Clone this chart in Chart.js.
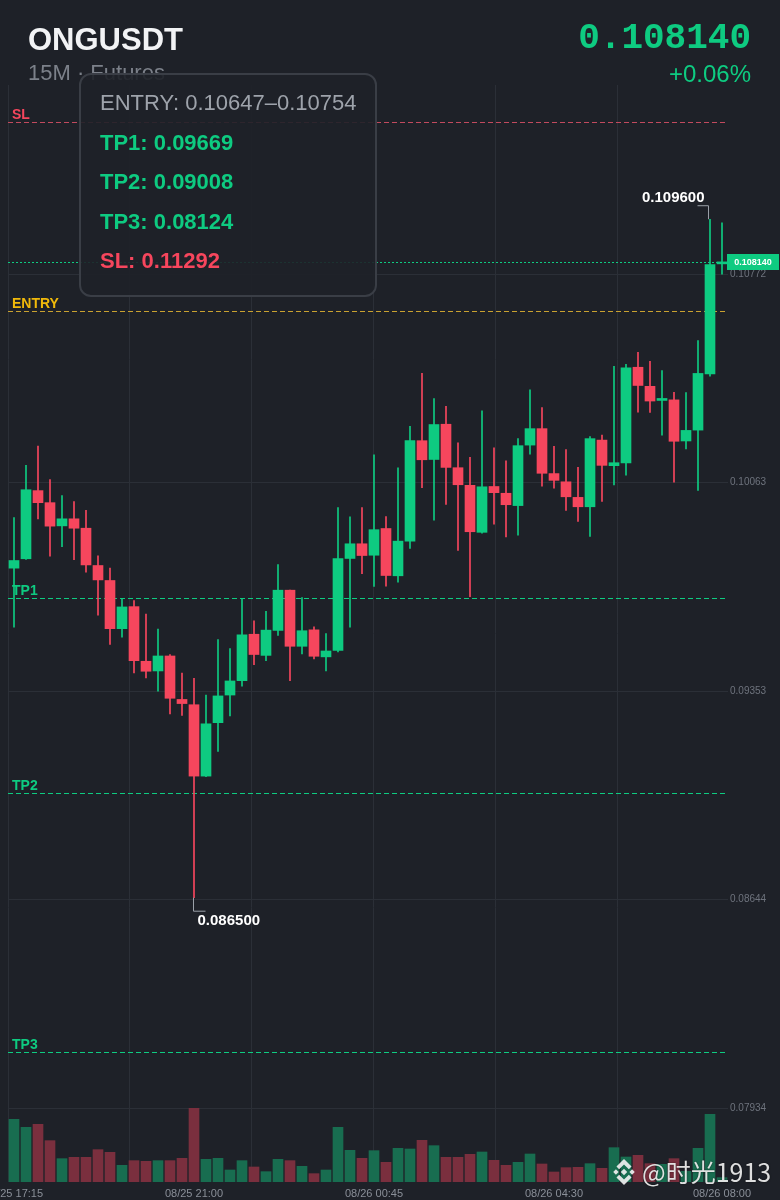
<!DOCTYPE html>
<html>
<head>
<meta charset="utf-8">
<title>ONGUSDT 15M</title>
<script src="https://cdn.jsdelivr.net/npm/chart.js@4.4.1/dist/chart.umd.min.js"></script>
<style>
  html, body { margin: 0; padding: 0; background: #1e2128; }
  #wrap { position: relative; width: 780px; height: 1200px; overflow: hidden; font-family: "Liberation Sans", Arial, sans-serif; }
  #chart { position: absolute; left: 0; top: 0; }
  .hd { position: absolute; white-space: nowrap; line-height: normal; }
  #sym { left: 28px; top: 22px; font-size: 31px; font-weight: bold; color: #f2f3f5; }
  #sub { left: 28px; top: 60px; font-size: 22px; color: #7c818a; }
  #price { right: 29px; top: 18px; font-family: "Liberation Mono", monospace; font-size: 36px; font-weight: bold; color: #0ecb81; }
  #chg { right: 29px; top: 60px; font-size: 24px; color: #0ecb81; }
  #box { position: absolute; left: 79px; top: 73px; width: 298px; height: 224px; box-sizing: border-box;
         border: 2px solid #3a3e46; border-radius: 12px; background: rgba(30, 33, 40, 0.9); }
  #box .ln { position: absolute; left: 19px; font-size: 22px; line-height: normal; white-space: nowrap; }
  #wm { position: absolute; left: 642px; top: 1159px; font-family: "Noto Sans CJK SC", sans-serif; font-size: 25px; line-height: 1;
        color: rgba(240, 240, 240, 0.92); text-shadow: 0 0 2px rgba(0,0,0,0.6); white-space: nowrap; }
  #logo { position: absolute; left: 610px; top: 1158px; }
</style>
</head>
<body>
<div id="wrap">
  <canvas id="chart" width="780" height="1200"></canvas>
  <div class="hd" id="sym">ONGUSDT</div>
  <div class="hd" id="sub">15M · Futures</div>
  <div class="hd" id="price"></div>
  <div class="hd" id="chg"></div>
  <div id="box"></div>
  <svg id="logo" width="28" height="28" viewBox="0 0 26 26">
    <g fill="rgba(240,240,240,0.92)">
      <polygon points="13,1 20,8 17.5,10.5 13,6 8.5,10.5 6,8"/>
      <polygon points="13,25 20,18 17.5,15.5 13,20 8.5,15.5 6,18"/>
      <polygon points="3,13 5.5,10.5 8,13 5.5,15.5"/>
      <polygon points="18,13 20.5,10.5 23,13 20.5,15.5"/>
      <polygon points="13,10 16,13 13,16 10,13"/>
    </g>
  </svg>
  <div id="wm">@时光1913</div>
</div>
<script>
(function () {
  'use strict';

  // 15 minute candles, 08/25 17:15 .. 08/26 08:00
  var categories = [];
  for (var i = 0; i < 60; i++) {
    var t = 25 * 1440 + 17 * 60 + 15 + i * 15;
    var d = Math.floor(t / 1440), m = t % 1440;
    categories.push('08/' + d + ' ' + String(Math.floor(m / 60)).padStart(2, '0') + ':' + String(m % 60).padStart(2, '0'));
  }
  var tickIdx = [0, 15, 30, 45, 59];

  var opens = [0.09772, 0.09804, 0.10036, 0.09995, 0.09916, 0.09940, 0.09908, 0.09781, 0.09730, 0.09566,
    0.09641, 0.09455, 0.09422, 0.09473, 0.09325, 0.09307, 0.09064, 0.09246, 0.09340, 0.09389,
    0.09547, 0.09475, 0.09560, 0.09697, 0.09506, 0.09562, 0.09470, 0.09492, 0.09805, 0.09855,
    0.09816, 0.09907, 0.09746, 0.09864, 0.10206, 0.10142, 0.10262, 0.10114, 0.10054, 0.09894,
    0.10050, 0.10027, 0.09985, 0.10191, 0.10247, 0.10094, 0.10066, 0.10013, 0.09981, 0.10208,
    0.10121, 0.10130, 0.10456, 0.10391, 0.10343, 0.10345, 0.10205, 0.10242, 0.10433, 0.10808];
  var highs = [0.09944, 0.10122, 0.10188, 0.10074, 0.10019, 0.09999, 0.09969, 0.09814, 0.09772, 0.09668,
    0.09662, 0.09616, 0.09565, 0.09478, 0.09415, 0.09397, 0.09340, 0.09529, 0.09498, 0.09668,
    0.09593, 0.09625, 0.09784, 0.09697, 0.09672, 0.09572, 0.09549, 0.09978, 0.09947, 0.09978,
    0.10158, 0.09948, 0.10114, 0.10255, 0.10435, 0.10349, 0.10323, 0.10199, 0.10149, 0.10308,
    0.10182, 0.10137, 0.10213, 0.10379, 0.10319, 0.10187, 0.10176, 0.10115, 0.10220, 0.10225,
    0.10459, 0.10466, 0.10507, 0.10476, 0.10445, 0.10371, 0.10370, 0.10547, 0.10960, 0.10948];
  var lows = [0.09571, 0.09802, 0.09940, 0.09813, 0.09845, 0.09801, 0.09758, 0.09612, 0.09512, 0.09537,
    0.09415, 0.09398, 0.09353, 0.09276, 0.09271, 0.08650, 0.09062, 0.09148, 0.09269, 0.09370,
    0.09443, 0.09457, 0.09543, 0.09389, 0.09480, 0.09463, 0.09422, 0.09487, 0.09571, 0.09753,
    0.09710, 0.09711, 0.09724, 0.09839, 0.10046, 0.09935, 0.09989, 0.09832, 0.09675, 0.09891,
    0.09922, 0.09878, 0.09884, 0.10160, 0.10051, 0.10044, 0.09969, 0.09931, 0.09880, 0.09999,
    0.10055, 0.10089, 0.10303, 0.10302, 0.10225, 0.10065, 0.10178, 0.10037, 0.10426, 0.10773];
  var closes = [0.09798, 0.10039, 0.09995, 0.09915, 0.09940, 0.09908, 0.09783, 0.09732, 0.09566, 0.09640,
    0.09457, 0.09421, 0.09473, 0.09329, 0.09311, 0.09064, 0.09242, 0.09337, 0.09388, 0.09545,
    0.09478, 0.09561, 0.09697, 0.09506, 0.09559, 0.09472, 0.09490, 0.09805, 0.09855, 0.09815,
    0.09903, 0.09747, 0.09864, 0.10206, 0.10141, 0.10261, 0.10115, 0.10056, 0.09896, 0.10049,
    0.10029, 0.09988, 0.10189, 0.10247, 0.10095, 0.10071, 0.10015, 0.09981, 0.10213, 0.10122,
    0.10131, 0.10454, 0.10394, 0.10341, 0.10347, 0.10204, 0.10241, 0.10435, 0.10806, 0.10814];
  // volume, thousand ONG
  var volumes = [188, 164, 173, 124, 70, 74, 74, 97, 89, 50,
    64, 62, 64, 64, 71, 222, 68, 71, 36, 64,
    45, 31, 68, 64, 47, 25, 36, 164, 95, 71,
    94, 59, 101, 99, 125, 109, 74, 74, 83, 90,
    65, 50, 59, 84, 54, 30, 43, 44, 55, 41,
    103, 75, 80, 55, 53, 70, 32, 101, 203, 13];

  var priceTicks = [0.07934, 0.08644, 0.09353, 0.10063, 0.10772];
  var levelNames = ['SL', 'ENTRY', 'TP1', 'TP2', 'TP3'];
  var levelValues = [0.11292, 0.10647, 0.09669, 0.09008, 0.08124];
  var entryHigh = 0.10754;

  var UP = '#0ecb81', DOWN = '#f6465d';
  var UP_VOL = '#186d50', DOWN_VOL = '#7a2f3e';
  var GRID = '#2b2f37';
  var levelText = ['#f6465d', '#f0b90b', '#0ecb81', '#0ecb81', '#0ecb81'];
  var levelLine = ['#c24a5e', '#c9a130', '#0ecb81', '#0ecb81', '#0ecb81'];

  var isUp = closes.map(function (c, i) { return c >= opens[i]; });
  var last = closes.length - 1;

  // header + signal box
  document.getElementById('price').textContent = closes[last].toFixed(6);
  var chg = (closes[last] - opens[last]) / opens[last] * 100;
  document.getElementById('chg').textContent = (chg >= 0 ? '+' : '') + chg.toFixed(2) + '%';
  var box = document.getElementById('box');
  var lines = [
    ['ENTRY: ' + levelValues[1].toFixed(5) + '\u2013' + entryHigh.toFixed(5), '#9ea3ab', 'normal'],
    ['TP1: ' + levelValues[2].toFixed(5), UP, 'bold'],
    ['TP2: ' + levelValues[3].toFixed(5), UP, 'bold'],
    ['TP3: ' + levelValues[4].toFixed(5), UP, 'bold'],
    ['SL: ' + levelValues[0].toFixed(5), DOWN, 'bold']
  ];
  lines.forEach(function (l, i) {
    var el = document.createElement('div');
    el.className = 'ln';
    el.textContent = l[0];
    el.style.color = l[1];
    el.style.fontWeight = l[2];
    el.style.top = (15 + i * 39.6) + 'px';
    box.appendChild(el);
  });

  function noPad(scale) {
    scale.paddingLeft = 0; scale.paddingRight = 0;
    scale.paddingTop = 0; scale.paddingBottom = 0;
  }

  var overlay = {
    id: 'overlay',
    beforeDatasetsDraw: function (chart) {
      var ctx = chart.ctx, a = chart.chartArea, y = chart.scales.y;
      ctx.save();
      ctx.lineWidth = 1;
      levelNames.forEach(function (name, i) {
        var py = Math.round(y.getPixelForValue(levelValues[i])) + 0.5;
        ctx.strokeStyle = levelLine[i];
        ctx.setLineDash([5, 3]);
        ctx.beginPath(); ctx.moveTo(a.left, py); ctx.lineTo(a.right - 1, py); ctx.stroke();
        ctx.fillStyle = levelText[i];
        ctx.font = 'bold 14px "Liberation Sans", Arial, sans-serif';
        ctx.textAlign = 'left'; ctx.textBaseline = 'alphabetic';
        ctx.fillText(name, a.left + 4, py - 4);
      });
      var cy = Math.round(y.getPixelForValue(closes[last])) + 0.5;
      ctx.strokeStyle = UP;
      ctx.setLineDash([2, 2]);
      ctx.beginPath(); ctx.moveTo(a.left, cy); ctx.lineTo(a.right, cy); ctx.stroke();
      ctx.restore();
    },
    afterDatasetsDraw: function (chart) {
      var ctx = chart.ctx, x = chart.scales.x, y = chart.scales.y;
      var hi = highs.indexOf(Math.max.apply(null, highs));
      var lo = lows.indexOf(Math.min.apply(null, lows));
      ctx.save();
      ctx.strokeStyle = '#9aa0a8'; ctx.lineWidth = 1;
      ctx.fillStyle = '#ffffff';
      ctx.font = 'bold 15px "Liberation Sans", Arial, sans-serif';
      // high marker
      var hx = Math.round(x.getPixelForValue(hi)) - 1.5, hy = y.getPixelForValue(highs[hi]);
      ctx.beginPath(); ctx.moveTo(hx - 11, hy - 13.5); ctx.lineTo(hx, hy - 13.5); ctx.lineTo(hx, hy); ctx.stroke();
      ctx.textAlign = 'right'; ctx.textBaseline = 'alphabetic';
      ctx.fillText(highs[hi].toFixed(6), hx - 4, hy - 17);
      // low marker
      var lx = Math.round(x.getPixelForValue(lo)) - 0.5, ly = y.getPixelForValue(lows[lo]);
      ctx.beginPath(); ctx.moveTo(lx, ly); ctx.lineTo(lx, ly + 13.5); ctx.lineTo(lx + 12, ly + 13.5); ctx.stroke();
      ctx.textAlign = 'left'; ctx.textBaseline = 'alphabetic';
      ctx.fillText(lows[lo].toFixed(6), lx + 4, ly + 27);
      ctx.restore();
    },
    afterDraw: function (chart) {
      var ctx = chart.ctx, a = chart.chartArea, y = chart.scales.y;
      var cy = Math.round(y.getPixelForValue(closes[last]));
      ctx.save();
      ctx.fillStyle = UP;
      ctx.fillRect(a.right - 1, cy - 8, 52, 16);
      ctx.fillStyle = '#ffffff';
      ctx.font = 'bold 9px "Liberation Sans", Arial, sans-serif';
      ctx.textAlign = 'center'; ctx.textBaseline = 'middle';
      ctx.fillText(closes[last].toFixed(6), a.right + 25, cy + 1);
      ctx.restore();
    }
  };

  var ctx = document.getElementById('chart').getContext('2d');
  Chart.defaults.font.family = '"Liberation Sans", Arial, sans-serif';

  new Chart(ctx, {
    type: 'bar',
    data: {
      labels: categories,
      datasets: [{
        label: 'body',
        data: opens.map(function (o, i) { return [o, closes[i]]; }),
        backgroundColor: isUp.map(function (u) { return u ? UP : DOWN; }),
        barThickness: 10,
        minBarLength: 2,
        grouped: false,
        xAxisID: 'x', yAxisID: 'y'
      }, {
        label: 'wick',
        data: lows.map(function (l, i) { return [l, highs[i]]; }),
        backgroundColor: isUp.map(function (u) { return u ? UP : DOWN; }),
        barThickness: 1,
        grouped: false,
        xAxisID: 'x', yAxisID: 'y'
      }, {
        label: 'volume',
        data: volumes,
        backgroundColor: isUp.map(function (u) { return u ? UP_VOL : DOWN_VOL; }),
        barThickness: 10,
        grouped: false,
        xAxisID: 'x', yAxisID: 'yv'
      }]
    },
    options: {
      responsive: false,
      animation: false,
      layout: { padding: { top: 85, left: 8, right: 0, bottom: 0 } },
      plugins: { legend: { display: false }, tooltip: { enabled: false } },
      scales: {
        x: {
          type: 'category',
          position: 'bottom',
          grid: { display: false, drawTicks: false },
          border: { display: false },
          ticks: {
            autoSkip: false, maxRotation: 0, minRotation: 0, padding: 5,
            color: '#8a8f98', font: { size: 11 },
            callback: function (v, i) { return tickIdx.indexOf(i) >= 0 ? categories[i] : ''; }
          },
          afterFit: function (scale) { scale.height = 18; noPad(scale); }
        },
        x2: {
          type: 'linear',
          position: 'top',
          offset: false,
          min: 0, max: 5.91,
          grid: { color: GRID, drawTicks: false, offset: false },
          border: { display: false },
          ticks: { display: false, stepSize: 1, includeBounds: false },
          afterFit: function (scale) { scale.height = 0; noPad(scale); }
        },
        y: {
          type: 'linear',
          position: 'right',
          stack: 'main',
          stackWeight: 1023,
          min: 0.07934, max: 0.11417,
          grid: { color: GRID, drawTicks: false },
          border: { display: false },
          ticks: {
            padding: 2, color: '#6e737d', font: { size: 10 },
            callback: function (v) { return Number(v).toFixed(5); }
          },
          afterBuildTicks: function (scale) {
            scale.ticks = priceTicks.map(function (v) { return { value: v }; });
          },
          afterFit: function (scale) { scale.width = 52; noPad(scale); }
        },
        yv: {
          type: 'linear',
          position: 'right',
          stack: 'main',
          stackWeight: 74,
          min: 0, max: Math.max.apply(null, volumes),
          grid: { display: false, drawTicks: false },
          border: { display: false },
          ticks: { display: false },
          afterFit: function (scale) { scale.width = 52; noPad(scale); }
        }
      }
    },
    plugins: [overlay]
  });
})();
</script>
</body>
</html>
